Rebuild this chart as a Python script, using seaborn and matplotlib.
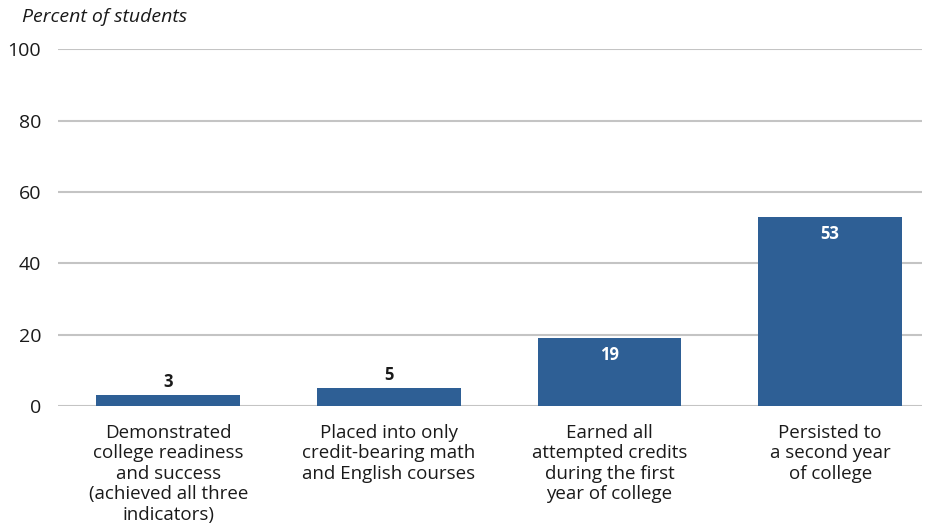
import matplotlib
matplotlib.use("Agg")
import matplotlib.pyplot as plt
import seaborn as sns
import pandas as pd

categories = [
    "Demonstrated\ncollege readiness\nand success\n(achieved all three\nindicators)",
    "Placed into only\ncredit-bearing math\nand English courses",
    "Earned all\nattempted credits\nduring the first\nyear of college",
    "Persisted to\na second year\nof college",
]
values = [3, 5, 19, 53]
yticks = [0, 20, 40, 60, 80, 100]

BAR_COLOR = "#2E5F95"

sns.set_theme(style="white")
plt.rcParams["font.family"] = ["Open Sans", "DejaVu Sans"]

df = pd.DataFrame({"category": categories, "value": values})

fig = plt.figure(figsize=(9.29, 5.29), dpi=100)
ax = fig.add_axes([0.0624, 0.2325, 0.93, 0.6745])

sns.barplot(data=df, x="category", y="value", color=BAR_COLOR, width=0.652,
            saturation=1, linewidth=0, ax=ax, zorder=3)

ax.set_ylim(0, 100)
ax.set_xlim(-0.5, 3.416)
ax.set_yticks(yticks)
ax.set_yticklabels([str(t) for t in yticks], fontsize=14, color="#1a1a1a")
ax.yaxis.grid(True, color="#c4c4c4", linewidth=1.5, zorder=0)
ax.tick_params(axis="y", length=0, pad=12)
ax.tick_params(axis="x", length=0, pad=13)
ax.set_xticks(range(len(categories)))
ax.set_xticklabels(categories, fontsize=13.5, color="#1a1a1a", linespacing=1.17, va="top")
for s in ax.spines.values():
    s.set_visible(False)
ax.set_xlabel("")
ax.set_ylabel("")

for i, v in enumerate(values):
    if v < 10:
        ax.text(i, v + 1.2, str(v), ha="center", va="bottom", fontsize=12,
                fontweight="bold", color="#1a1a1a")
    else:
        ax.text(i, v - 2.3, str(v), ha="center", va="top", fontsize=12,
                fontweight="bold", color="white")

fig.text(22 / 929, 1 - 17 / 529, "Percent of students", fontsize=14, style="italic",
         ha="left", va="center", color="#1a1a1a")

fig.savefig("out.png", dpi=100)
